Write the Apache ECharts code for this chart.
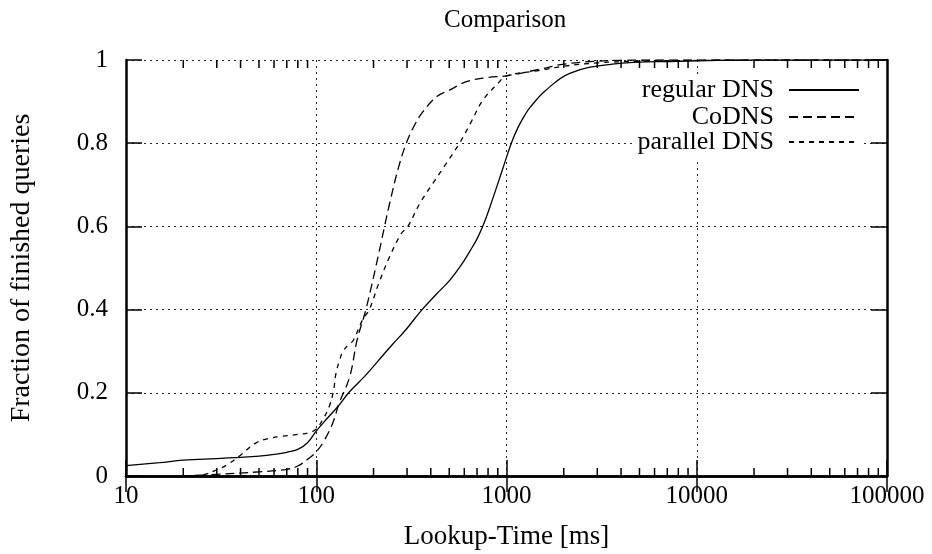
<!DOCTYPE html>
<html>
<head>
<meta charset="utf-8">
<script src="https://cdn.jsdelivr.net/npm/echarts@6/dist/echarts.min.js"></script>
<style>
  html, body { margin: 0; padding: 0; background: #fff; }
  #chart { width: 932px; height: 554px; }
</style>
</head>
<body>
<div id="chart"></div>
<script>
// Cumulative fraction of finished DNS lookups vs. lookup time (ms)
const regularDNS = [
  [10, 0.025], [15, 0.032], [20, 0.038], [30, 0.042], [40, 0.045], [50, 0.048],
  [60, 0.052], [70, 0.057], [80, 0.064], [90, 0.080], [100, 0.108], [115, 0.140],
  [130, 0.167], [150, 0.203], [180, 0.240], [210, 0.275], [250, 0.315], [295, 0.351],
  [360, 0.400], [430, 0.438], [504, 0.471], [580, 0.508], [641, 0.540], [700, 0.570],
  [753, 0.602], [820, 0.648], [950, 0.735], [1060, 0.800], [1150, 0.838], [1250, 0.868],
  [1330, 0.886], [1600, 0.926], [2150, 0.968], [3600, 0.990], [8000, 0.997], [20000, 1.0],
  [100000, 1.0]
];
const coDNS = [
  [20, 0.0], [30, 0.004], [50, 0.010], [70, 0.016], [80, 0.024], [90, 0.040],
  [100, 0.058], [110, 0.085], [122, 0.127], [132, 0.175], [150, 0.239], [164, 0.327],
  [183, 0.403], [215, 0.543], [229, 0.602], [243, 0.655], [270, 0.740], [298, 0.801],
  [330, 0.845], [364, 0.876], [430, 0.912], [504, 0.928], [615, 0.948], [800, 0.958],
  [1000, 0.962], [1500, 0.978], [2000, 0.990], [3000, 0.997], [5000, 1.0], [100000, 1.0]
];
const parallelDNS = [
  [20, 0.0], [26, 0.004], [30, 0.015], [34, 0.027], [40, 0.050], [48, 0.079],
  [56, 0.090], [65, 0.095], [80, 0.100], [92, 0.104], [100, 0.113], [108, 0.135],
  [117, 0.167], [123, 0.203], [127, 0.247], [133, 0.280], [138, 0.299], [147, 0.315],
  [156, 0.325], [175, 0.375], [190, 0.400], [213, 0.463], [243, 0.527], [280, 0.583],
  [303, 0.600], [350, 0.655], [411, 0.704], [480, 0.750], [568, 0.801], [650, 0.850],
  [753, 0.904], [903, 0.944], [1000, 0.962], [1500, 0.975], [2000, 0.985], [3000, 0.993],
  [5000, 0.997], [10000, 0.999], [30000, 1.0], [100000, 1.0]
];

const seriesNames = ['regular DNS', 'CoDNS', 'parallel DNS'];
const xTickLabels = ['10', '100', '1000', '10000', '100000'];
const yTickLabels = ['0', '0.2', '0.4', '0.6', '0.8', '1'];
// minor log ticks: 2..9 within each decade
const decades = [10, 100, 1000, 10000];
const minorSteps = [2, 3, 4, 5, 6, 7, 8, 9];
const minorTicks = [];
decades.forEach(d => minorSteps.forEach(m => minorTicks.push(d * m)));

const FONT = 'Liberation Serif';
const black = '#000';

const chart = echarts.init(document.getElementById('chart'), null, { renderer: 'canvas' });

const baseX = {
  type: 'log', logBase: 10, min: 10, max: 100000,
  axisLine: { show: true, lineStyle: { color: black, width: 2.5 } },
  axisTick: { show: true, inside: true, length: 16, lineStyle: { color: black, width: 1.5 } },
  minorTick: { show: false }
};
const baseY = {
  type: 'value', min: 0, max: 1, interval: 0.2,
  axisLine: { show: true, lineStyle: { color: black, width: 2.5 } },
  axisTick: { show: true, inside: true, length: 16, lineStyle: { color: black, width: 1.5 } }
};

function legendFor(name, top) {
  return {
    data: [name],
    orient: 'horizontal',
    right: 68,
    top: top,
    align: 'right',
    itemWidth: 70,
    itemHeight: 14,
    padding: [3, 4],
    backgroundColor: '#fff',
    selectedMode: false,
    itemStyle: { opacity: 0 },
    textStyle: { fontFamily: FONT, fontSize: 26, color: black, padding: [0, 10, 0, 0] }
  };
}

function lineSeries(name, data, dash) {
  return {
    name: name, type: 'line', data: data,
    symbol: 'none', showSymbol: false, smooth: 0.4,
    lineStyle: { color: black, width: 1.3, type: dash },
    itemStyle: { color: black }
  };
}

chart.setOption({
  animation: false,
  backgroundColor: '#fff',
  title: {
    text: 'Comparison',
    left: 439,
    top: 3,
    textStyle: { fontFamily: FONT, fontSize: 25, fontWeight: 'normal', color: black }
  },
  legend: [
    legendFor(seriesNames[0], 74),
    legendFor(seriesNames[1], 101),
    legendFor(seriesNames[2], 126)
  ],
  grid: { left: 126, right: 45, top: 60, bottom: 78, containLabel: false, outerBoundsMode: 'none' },
  xAxis: [
    Object.assign({}, baseX, {
      position: 'bottom',
      name: 'Lookup-Time [ms]',
      nameLocation: 'middle',
      nameGap: 47,
      nameTextStyle: { fontFamily: FONT, fontSize: 27, color: black },
      axisLabel: {
        margin: 8, fontFamily: FONT, fontSize: 25, color: black,
        formatter: v => xTickLabels.find(t => Number(t) === Math.round(v)) || ''
      },
      splitLine: { show: true, lineStyle: { color: '#222', width: 1, type: [2, 4] } }
    }),
    Object.assign({}, baseX, {
      position: 'top',
      axisLabel: { show: false },
      splitLine: { show: false }
    })
  ],
  yAxis: [
    Object.assign({}, baseY, {
      position: 'left',
      name: 'Fraction of finished queries',
      nameLocation: 'middle',
      nameGap: 90,
      nameTextStyle: { fontFamily: FONT, fontSize: 28, color: black },
      axisLabel: {
        margin: 18, fontFamily: FONT, fontSize: 25, color: black,
        formatter: (v, i) => yTickLabels[i]
      },
      splitLine: { show: true, lineStyle: { color: '#222', width: 1, type: [2, 4] } }
    }),
    Object.assign({}, baseY, {
      position: 'right',
      axisLabel: { show: false },
      splitLine: { show: false }
    })
  ],
  series: [
    lineSeries(seriesNames[0], regularDNS, 'solid'),
    lineSeries(seriesNames[1], coDNS, [9, 5]),
    lineSeries(seriesNames[2], parallelDNS, [5, 5]),
    {
      // minor log ticks on bottom and top edges
      type: 'custom', silent: true, clip: false, z: 5,
      data: minorTicks.map(v => [v, 0]),
      renderItem: function (params, api) {
        const v = api.value(0);
        const b = api.coord([v, 0]);
        const t = api.coord([v, 1]);
        const st = { stroke: black, lineWidth: 1.5 };
        return {
          type: 'group',
          children: [
            { type: 'line', shape: { x1: b[0], y1: b[1], x2: b[0], y2: b[1] - 8 }, style: st },
            { type: 'line', shape: { x1: t[0], y1: t[1], x2: t[0], y2: t[1] + 8 }, style: st }
          ]
        };
      }
    }
  ]
});
</script>
</body>
</html>
